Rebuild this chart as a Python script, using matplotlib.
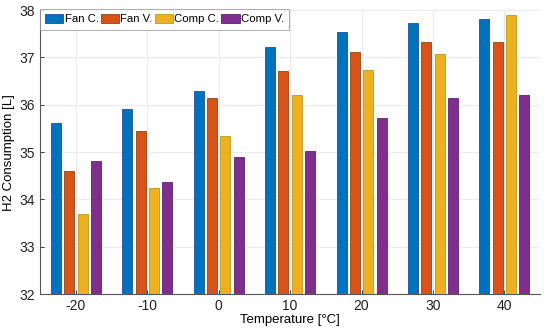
import matplotlib.pyplot as plt
import numpy as np

plt.rcParams['font.family'] = ['Liberation Sans', 'DejaVu Sans']

temps = ['-20', '-10', '0', '10', '20', '30', '40']
fan_c = [35.61, 35.92, 36.29, 37.21, 37.53, 37.73, 37.81]
fan_v = [34.61, 35.45, 36.15, 36.71, 37.12, 37.33, 37.33]
comp_c = [33.70, 34.24, 35.33, 36.21, 36.74, 37.08, 37.89]
comp_v = [34.81, 34.36, 34.89, 35.03, 35.73, 36.15, 36.20]

series = [fan_c, fan_v, comp_c, comp_v]
names = ['Fan C.', 'Fan V.', 'Comp C.', 'Comp V.']
colors = ['#0072BD', '#D95319', '#EDB120', '#7E2F8E']
edges = ['#1f4f9a', '#8a4a14', '#b89a20', '#5a2470']

fig = plt.figure(figsize=(5.5, 3.35), dpi=100)
ax = fig.add_axes([0.073, 0.122, 0.909, 0.848])

x = np.arange(len(temps))
offsets = [-0.28, -0.093, 0.093, 0.28]
for vals, name, c, ec, off in zip(series, names, colors, edges, offsets):
    ax.bar(x + off, np.array(vals) - 32, width=0.14, bottom=32, color=c,
           edgecolor=ec, linewidth=0.6, label=name, zorder=3)

ax.set_xlim(-0.5, 6.5)
ax.set_ylim(32, 38)
ax.set_xticks(x)
ax.set_xticklabels(temps)
ax.set_yticks(range(32, 39))
ax.grid(True, color='#ebebeb', linewidth=0.8, zorder=0)
ax.spines['top'].set_visible(False)
ax.spines['right'].set_visible(False)
for s in ['left', 'bottom']:
    ax.spines[s].set_color('#555555')
    ax.spines[s].set_linewidth(0.8)
ax.tick_params(labelsize=10, colors='#222222', length=3, width=0.6, direction='in')
ax.set_xlabel('Temperature [°C]', fontsize=9.5, labelpad=1)
ax.set_ylabel('H2 Consumption [L]', fontsize=9.5, labelpad=3)

leg = ax.legend(ncol=4, loc='upper left', bbox_to_anchor=(0.0, 1.005), fontsize=8.2,
                frameon=True, fancybox=False, edgecolor='#888888',
                handlelength=1.6, handleheight=0.9, handletextpad=0.1,
                columnspacing=0.2, borderpad=0.45, borderaxespad=0.0)
leg.get_frame().set_linewidth(0.6)

fig.savefig('out.png', dpi=100)
